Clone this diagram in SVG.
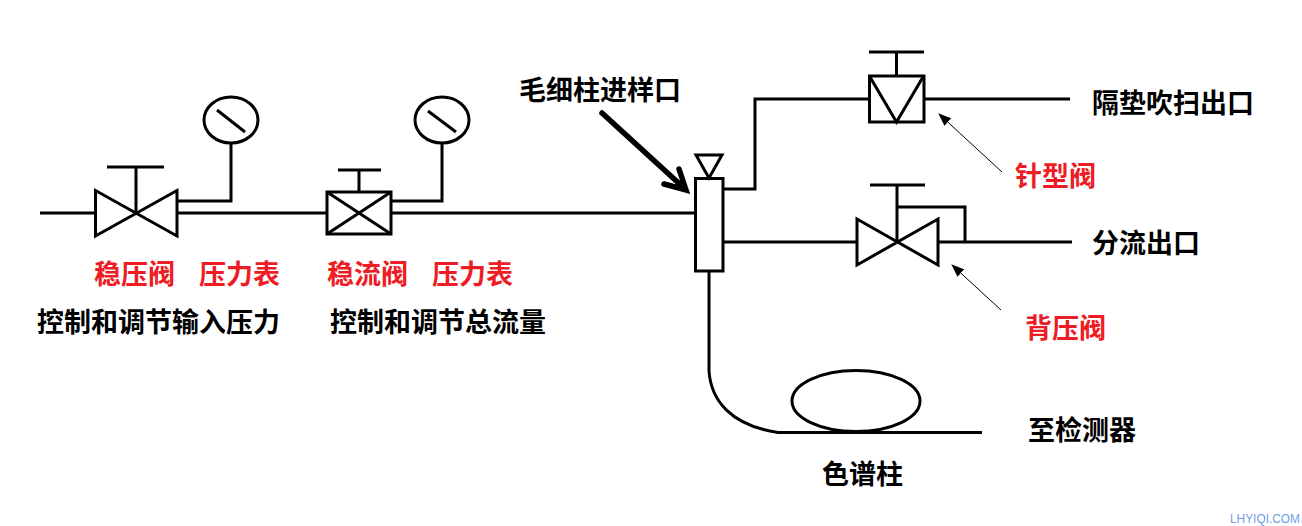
<svg xmlns="http://www.w3.org/2000/svg" width="1302" height="526" viewBox="0 0 1302 526">
<style>
.l{fill:none;stroke:#000;stroke-width:3;stroke-linejoin:miter}
.m{fill:none;stroke:#000;stroke-width:3}
.t{font-family:"Noto Sans CJK SC","Liberation Sans",sans-serif;font-size:27px;font-weight:700;fill:#000}
.r{fill:#ee1c25}
.w{font-family:"Liberation Sans",sans-serif;font-size:12.500px;fill:#6f9be8}
</style>
<defs>
<marker id="ah" viewBox="0 0 13 10" refX="12" refY="5" markerWidth="13" markerHeight="10" markerUnits="userSpaceOnUse" orient="auto"><path d="M0 0L13 5L0 10Z" fill="#000"/></marker>
</defs>
<rect width="1302" height="526" fill="#fff"/>
<g id="connectors">
<path class="l" d="M40 213H95"/>
<path class="l" d="M177 213H327"/>
<path class="l" d="M177 201H231V143"/>
<path class="l" d="M391 213H695"/>
<path class="l" d="M391 201H442V143"/>
<path class="l" d="M723 189H755V99H869"/>
<path class="l" d="M924 99H1070"/>
<path class="l" d="M723 242H857"/>
<path class="l" d="M897 207H965V242"/>
<path class="l" d="M938 242H1072"/>
<path class="l" d="M709 271V371C711 400 730 425 778 432.500H982"/>
<path fill="none" stroke="#000" stroke-width="5.500" stroke-linecap="round" d="M602 113L684 188M664 184L686 190L679 169"/>
<path fill="none" stroke="#000" stroke-width="1" marker-end="url(#ah)" d="M1002 172L939 114"/>
<path fill="none" stroke="#000" stroke-width="1" marker-end="url(#ah)" d="M1001 310L952 265"/>
</g>
<g id="pressure-valve">
<path class="l" d="M95.500 190.500V236L177 190.500V236Z"/>
<path class="l" d="M136 213V167M107 167H164"/>
</g>
<g id="gauge-1">
<ellipse class="m" cx="231" cy="120" rx="27" ry="23"/>
<path class="m" d="M217 110L245 132"/>
</g>
<g id="flow-valve">
<rect class="l" x="327" y="192" width="64" height="42"/>
<path class="l" d="M327 192L391 234M391 192L327 234M359 192V170M338 170H381"/>
</g>
<g id="gauge-2">
<ellipse class="m" cx="442" cy="120" rx="27" ry="23"/>
<path class="m" d="M428 111L456 132"/>
</g>
<g id="injector">
<rect class="l" x="695.500" y="178.500" width="27.500" height="92.500"/>
<path class="l" d="M696 155H722L709 178Z"/>
</g>
<g id="needle-valve">
<rect class="l" x="869.500" y="76" width="54.500" height="46"/>
<path class="l" d="M870 77L896.500 122L923 77M896.500 76V52M869 52H924"/>
</g>
<g id="back-valve">
<path class="l" d="M857 219V265L938 219V265Z"/>
<path class="l" d="M897 242V185M870 185H925"/>
</g>
<g id="column">
<ellipse class="m" cx="856" cy="401" rx="64" ry="30.500"/>
</g>
<g id="labels">
<text class="t r" x="94" y="284">稳压阀</text>
<text class="t r" x="199" y="284">压力表</text>
<text class="t r" x="327" y="284">稳流阀</text>
<text class="t r" x="432" y="284">压力表</text>
<text class="t" x="37" y="332">控制和调节输入压力</text>
<text class="t" x="330" y="332">控制和调节总流量</text>
<text class="t" x="519" y="100">毛细柱进样口</text>
<text class="t" x="1092" y="113">隔垫吹扫出口</text>
<text class="t r" x="1015" y="186">针型阀</text>
<text class="t" x="1092" y="253">分流出口</text>
<text class="t r" x="1025" y="338">背压阀</text>
<text class="t" x="1028" y="440">至检测器</text>
<text class="t" x="822" y="484">色谱柱</text>
<text class="w" x="1230" y="523" textLength="70" lengthAdjust="spacingAndGlyphs">LHYIQI.COM</text>
</g>
</svg>
